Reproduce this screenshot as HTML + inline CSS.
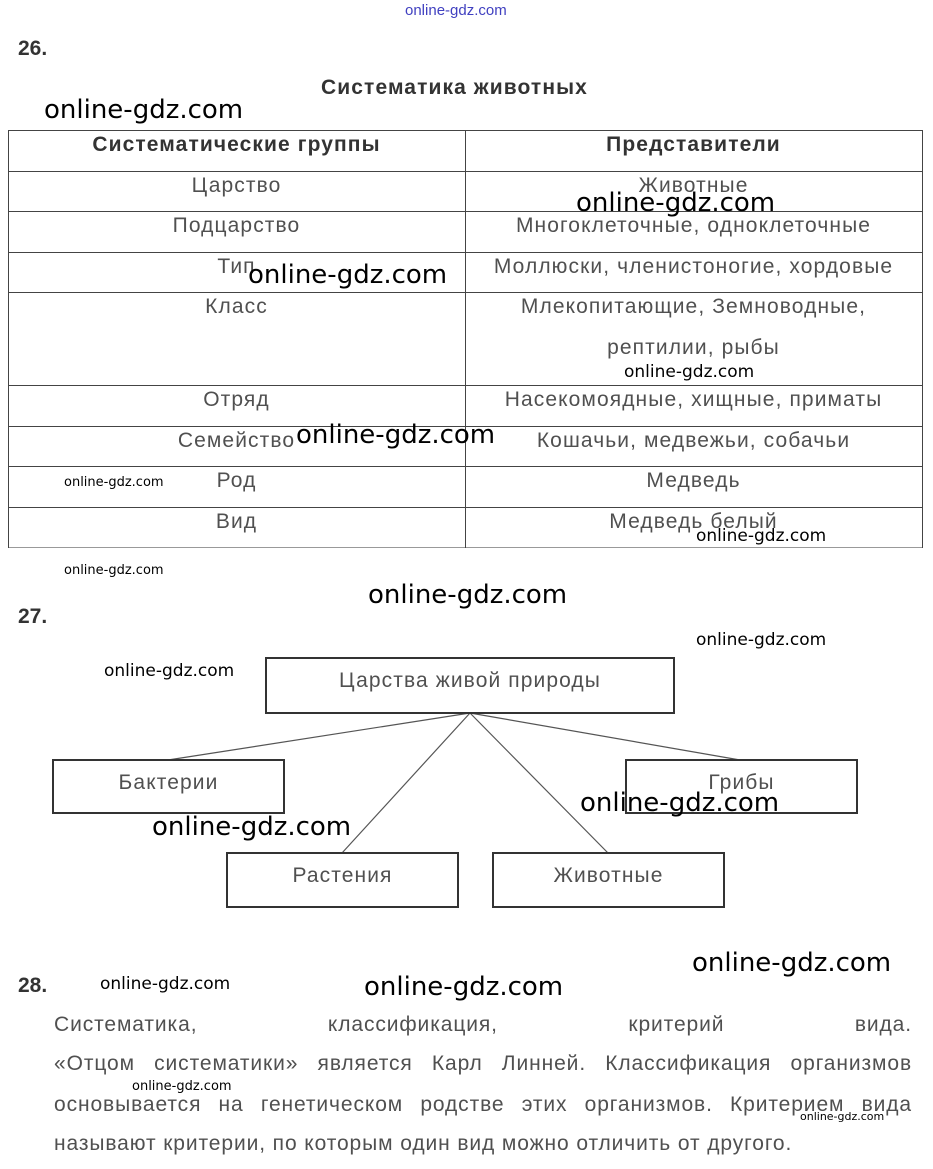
<!DOCTYPE html>
<html><head><meta charset="utf-8"><style>
body{margin:0;width:933px;height:1169px;background:#fff;position:relative;overflow:hidden;font-family:"Liberation Sans",sans-serif;color:#444}
.a{position:absolute;white-space:nowrap}
.c{position:absolute;text-align:center;font-size:21px;letter-spacing:1.1px;color:#505050;white-space:nowrap}
.w{position:absolute;font-family:"DejaVu Sans","Liberation Sans",sans-serif;color:#000;white-space:nowrap}
.b{font-weight:bold;color:#333}
.box{position:absolute;border:2px solid #333;box-sizing:border-box;text-align:center;font-size:21px;letter-spacing:1.1px;color:#505050}
.h{position:absolute;height:1px;background:#444}
.v{position:absolute;width:1px;background:#444}
.p{position:absolute;left:54px;width:858px;font-size:21px;color:#505050;text-align:justify;text-align-last:justify;white-space:nowrap;letter-spacing:0.9px}
</style></head><body>
<div class="a" style="left:405px;top:2px;font-size:15px;color:#4040c0">online-gdz.com</div>
<div class="a b" style="left:18px;top:37px;font-size:21px">26.</div>
<div class="a b" style="left:321px;top:76px;font-size:21px;letter-spacing:1.1px">Систематика животных</div>

<div class="h" style="left:8px;width:915px;top:130px"></div>
<div class="h" style="left:8px;width:915px;top:171px"></div>
<div class="h" style="left:8px;width:915px;top:211px"></div>
<div class="h" style="left:8px;width:915px;top:252px"></div>
<div class="h" style="left:8px;width:915px;top:292px"></div>
<div class="h" style="left:8px;width:915px;top:385px"></div>
<div class="h" style="left:8px;width:915px;top:426px"></div>
<div class="h" style="left:8px;width:915px;top:466px"></div>
<div class="h" style="left:8px;width:915px;top:507px"></div>
<div class="h" style="left:8px;width:915px;top:547px;background:#999"></div>
<div class="v" style="left:8px;top:130px;height:418px"></div>
<div class="v" style="left:465px;top:130px;height:418px"></div>
<div class="v" style="left:922px;top:130px;height:418px"></div>

<div class="c b" style="left:8px;width:457px;top:133px">Систематические группы</div>
<div class="c b" style="left:465px;width:457px;top:133px">Представители</div>
<div class="c" style="left:8px;width:457px;top:174px">Царство</div>
<div class="c" style="left:465px;width:457px;top:174px">Животные</div>
<div class="c" style="left:8px;width:457px;top:214px">Подцарство</div>
<div class="c" style="left:465px;width:457px;top:214px">Многоклеточные, одноклеточные</div>
<div class="c" style="left:8px;width:457px;top:255px">Тип</div>
<div class="c" style="left:465px;width:457px;top:255px">Моллюски, членистоногие, хордовые</div>
<div class="c" style="left:8px;width:457px;top:295px">Класс</div>
<div class="c" style="left:465px;width:457px;top:295px">Млекопитающие, Земноводные,</div>
<div class="c" style="left:465px;width:457px;top:336px">рептилии, рыбы</div>
<div class="c" style="left:8px;width:457px;top:388px">Отряд</div>
<div class="c" style="left:465px;width:457px;top:388px">Насекомоядные, хищные, приматы</div>
<div class="c" style="left:8px;width:457px;top:429px">Семейство</div>
<div class="c" style="left:465px;width:457px;top:429px">Кошачьи, медвежьи, собачьи</div>
<div class="c" style="left:8px;width:457px;top:469px">Род</div>
<div class="c" style="left:465px;width:457px;top:469px">Медведь</div>
<div class="c" style="left:8px;width:457px;top:510px">Вид</div>
<div class="c" style="left:465px;width:457px;top:510px">Медведь белый</div>

<div class="a b" style="left:18px;top:605px;font-size:21px">27.</div>
<svg class="a" style="left:0;top:0" width="933" height="1169">
<g stroke="#555" stroke-width="1.2">
<line x1="470" y1="713" x2="168" y2="760"/>
<line x1="470" y1="713" x2="740" y2="760"/>
<line x1="470" y1="713" x2="342" y2="853"/>
<line x1="470" y1="713" x2="608" y2="853"/>
</g></svg>
<div class="box" style="left:265px;top:657px;width:410px;height:57px;padding-top:10px">Царства живой природы</div>
<div class="box" style="left:52px;top:759px;width:233px;height:55px;padding-top:10px">Бактерии</div>
<div class="box" style="left:625px;top:759px;width:233px;height:55px;padding-top:10px">Грибы</div>
<div class="box" style="left:226px;top:852px;width:233px;height:56px;padding-top:10px">Растения</div>
<div class="box" style="left:492px;top:852px;width:233px;height:56px;padding-top:10px">Животные</div>

<div class="a b" style="left:18px;top:974px;font-size:21px">28.</div>
<div class="p" style="top:1013px">Систематика, классификация, критерий вида.</div>
<div class="p" style="top:1052px">«Отцом систематики» является Карл Линней. Классификация организмов</div>
<div class="p" style="top:1093px">основывается на генетическом родстве этих организмов. Критерием вида</div>
<div class="a" style="left:54px;top:1132px;font-size:21px;color:#505050;letter-spacing:0.9px">называют критерии, по которым один вид можно отличить от другого.</div>

<div class="w" style="left:44px;top:95px;font-size:26px">online-gdz.com</div>
<div class="w" style="left:576px;top:188px;font-size:26px">online-gdz.com</div>
<div class="w" style="left:248px;top:260px;font-size:26px">online-gdz.com</div>
<div class="w" style="left:624px;top:362px;font-size:17px">online-gdz.com</div>
<div class="w" style="left:296px;top:420px;font-size:26px">online-gdz.com</div>
<div class="w" style="left:64px;top:475px;font-size:13px">online-gdz.com</div>
<div class="w" style="left:696px;top:526px;font-size:17px">online-gdz.com</div>
<div class="w" style="left:64px;top:563px;font-size:13px">online-gdz.com</div>
<div class="w" style="left:368px;top:580px;font-size:26px">online-gdz.com</div>
<div class="w" style="left:696px;top:630px;font-size:17px">online-gdz.com</div>
<div class="w" style="left:104px;top:661px;font-size:17px">online-gdz.com</div>
<div class="w" style="left:580px;top:788px;font-size:26px">online-gdz.com</div>
<div class="w" style="left:152px;top:812px;font-size:26px">online-gdz.com</div>
<div class="w" style="left:692px;top:948px;font-size:26px">online-gdz.com</div>
<div class="w" style="left:100px;top:974px;font-size:17px">online-gdz.com</div>
<div class="w" style="left:364px;top:972px;font-size:26px">online-gdz.com</div>
<div class="w" style="left:132px;top:1079px;font-size:13px">online-gdz.com</div>
<div class="w" style="left:800px;top:1110px;font-size:11px">online-gdz.com</div>
</body></html>
